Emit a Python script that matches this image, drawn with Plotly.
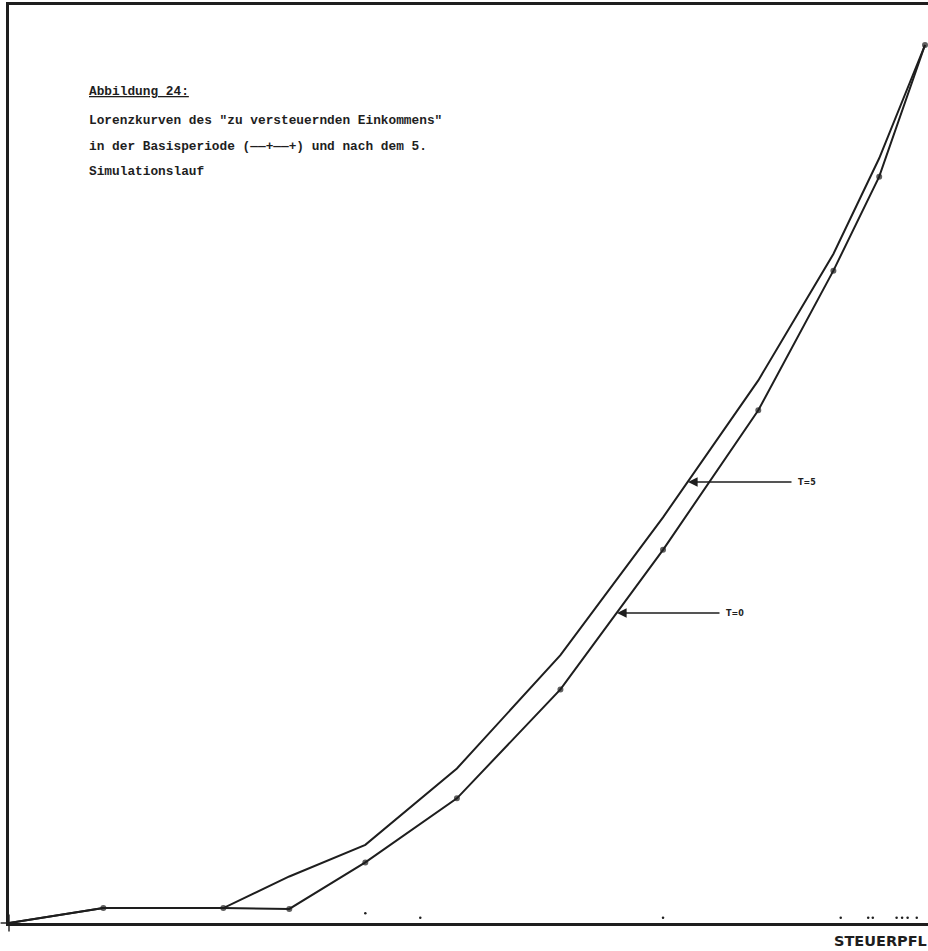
import plotly.graph_objects as go

# Cumulative share of taxpayers (%) and cumulative share of taxable income (%)
pop_share = [0, 10.3, 23.4, 30.6, 38.9, 48.9, 60.2, 71.4, 81.8, 90.0, 95.0, 100]
income_t0 = [0, 1.7, 1.7, 1.6, 6.9, 14.2, 26.6, 42.5, 58.4, 74.3, 85.0, 100]
income_t5 = [0, 1.7, 1.7, 5.3, 8.9, 17.6, 30.5, 46.2, 61.8, 76.2, 87.1, 100]
# small specks along the abscissa
speck_x = [38.9, 44.9, 71.4, 90.8, 93.8, 94.3, 96.9, 97.5, 98.1, 99.1]
speck_y = [1.1, 0.6, 0.6, 0.6, 0.6, 0.6, 0.6, 0.6, 0.6, 0.6]

W, H = 928, 951
L, T, B = 9, 5, 28
X0_PX, X100_PX = 9, 925
Y0_PX, Y100_PX = 923, 45
sx = (X100_PX - X0_PX) / 100.0
sy = (Y0_PX - Y100_PX) / 100.0
x_max = (W - X0_PX) / sx
y_max = (Y0_PX - T) / sy


def px2x(px):
    return (px - X0_PX) / sx


def py2y(py):
    return (Y0_PX - py) / sy


ink = "#1e1e1e"
fig = go.Figure()

fig.add_trace(go.Scatter(
    x=pop_share, y=income_t5, mode="lines",
    line=dict(color=ink, width=2), showlegend=False, hoverinfo="skip"))

symbols = ["cross-thin"] + ["circle"] * (len(pop_share) - 1)
fig.add_trace(go.Scatter(
    x=pop_share, y=income_t0, mode="lines+markers", cliponaxis=False,
    line=dict(color=ink, width=2),
    marker=dict(color=ink, size=[12] + [4] * (len(pop_share) - 1), symbol=symbols,
                line=dict(color=ink, width=2)),
    showlegend=False, hoverinfo="skip"))

fig.add_trace(go.Scatter(
    x=speck_x, y=speck_y, mode="markers",
    marker=dict(color=ink, size=2.5), showlegend=False, hoverinfo="skip"))

mono = dict(family="Liberation Mono, Courier New, monospace", size=12.8, color=ink, weight="bold")
lines = [
    ("Abbildung 24:", 91),
    ("Lorenzkurven des \"zu versteuernden Einkommens\"", 120),
    ("in der Basisperiode (\u2014\u2014+\u2014\u2014+) und nach dem 5.", 146),
    ("Simulationslauf", 171),
]
annotations = []
for i, (txt, ypx) in enumerate(lines):
    f = dict(mono)
    if i == 0:
        f["lineposition"] = "under"
    annotations.append(dict(
        x=px2x(87), y=py2y(ypx), xref="x", yref="y", text=txt,
        showarrow=False, xanchor="left", yanchor="middle", font=f))

# arrows pointing to the curves
for (x_tail, x_head, ypx, label) in [(793, 688, 482, "T=5"), (721, 617, 613, "T=0")]:
    annotations.append(dict(
        x=px2x(x_head), y=py2y(ypx), ax=px2x(x_tail), ay=py2y(ypx),
        xref="x", yref="y", axref="x", ayref="y", text="",
        showarrow=True, arrowhead=2, arrowsize=1.2, arrowwidth=1.6, arrowcolor=ink))
    annotations.append(dict(
        x=px2x(x_tail + 3), y=py2y(ypx), xref="x", yref="y", text=label,
        showarrow=False, xanchor="left", yanchor="middle",
        font=dict(family="DejaVu Sans", size=8, color=ink, weight="bold")))

# axis caption below the abscissa (paper coordinates, outside the plotting area)
plot_w = W - L
plot_h = H - T - B
annotations.append(dict(
    x=(832 - L) / plot_w, y=(Y0_PX - 941) / plot_h, xref="paper", yref="paper",
    text="STEUERPFL", showarrow=False, xanchor="left", yanchor="middle",
    font=dict(family="DejaVu Sans", size=14.5, color=ink, weight="bold")))

fig.update_layout(
    width=W, height=H,
    margin=dict(l=L, r=0, t=T, b=B, pad=0),
    paper_bgcolor="white", plot_bgcolor="white",
    annotations=annotations,
    xaxis=dict(range=[0, x_max], showgrid=False, zeroline=False, showticklabels=False,
               ticks="", showline=True, linecolor=ink, linewidth=3, mirror=True,
               fixedrange=True),
    yaxis=dict(range=[0, y_max], showgrid=False, zeroline=False, showticklabels=False,
               ticks="", showline=True, linecolor=ink, linewidth=3, mirror=False,
               fixedrange=True),
)

fig.write_html("out.html")
